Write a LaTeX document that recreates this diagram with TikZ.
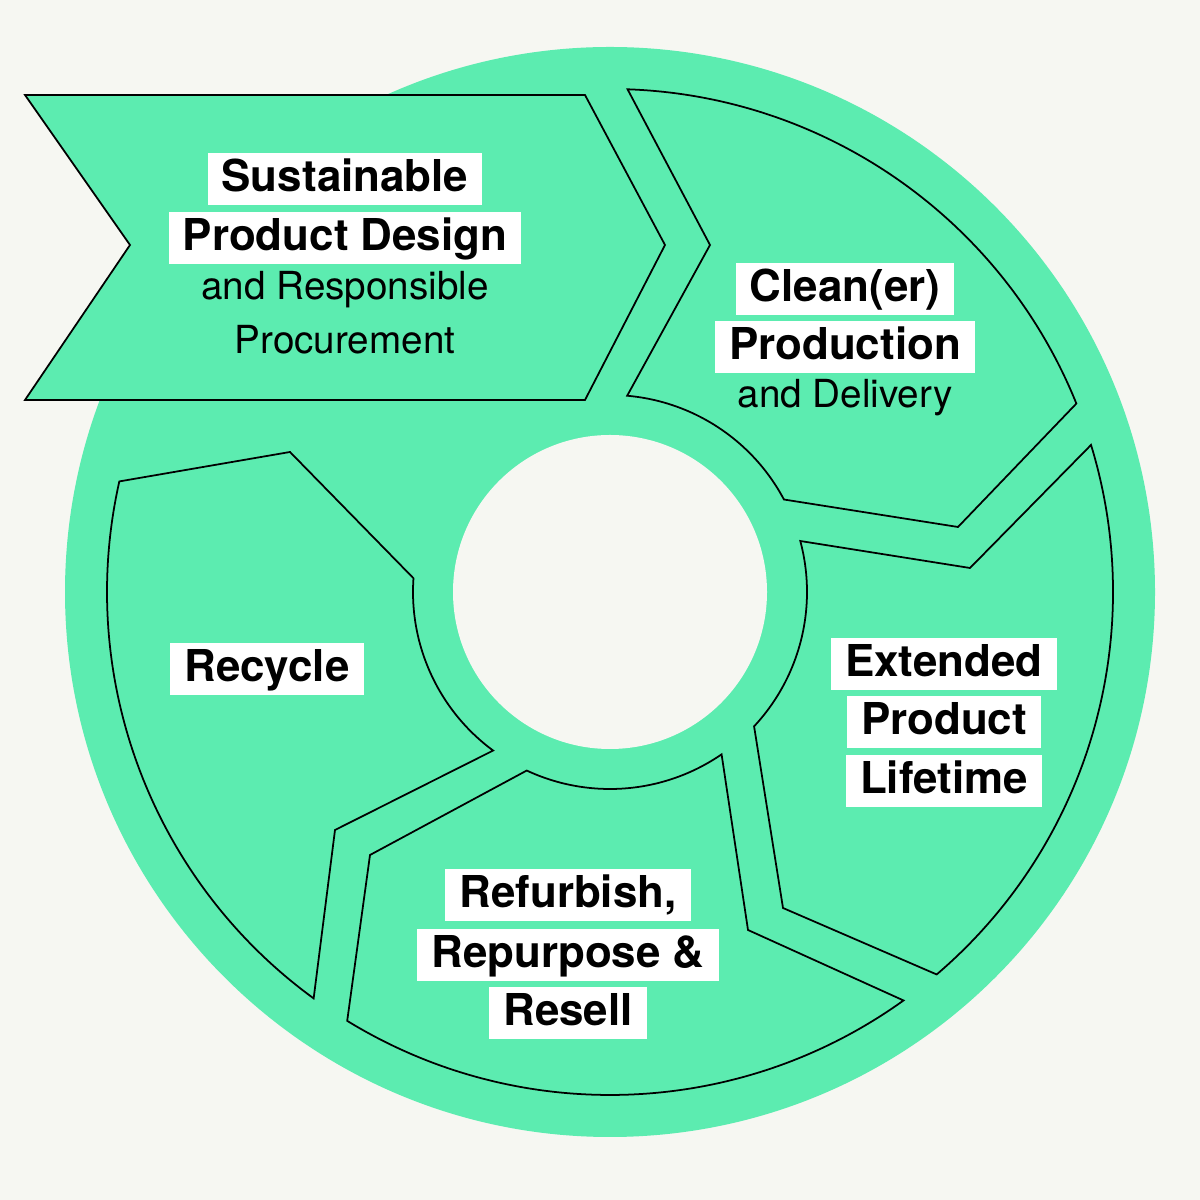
\documentclass[tikz,border=0pt]{standalone}
\usepackage{fontspec}
\setmainfont{TeX Gyre Heros}
\usetikzlibrary{calc}
\definecolor{bgc}{HTML}{F6F7F2}
\definecolor{grn}{HTML}{5CECB0}
\tikzset{
  seg/.style={fill=grn,draw=black,line width=1pt,line join=miter},
  lbl/.style={fill=white,font=\fontsize{25}{30}\selectfont\bfseries,inner xsep=8pt,inner ysep=3pt,text height=19pt,text depth=5pt},
  sub/.style={font=\fontsize{22}{26}\selectfont,inner sep=0pt}
}
\begin{document}
\begin{tikzpicture}[x=0.02cm,y=0.02cm]
\useasboundingbox (0,0) rectangle (1200,1200);
\fill[bgc] (0,0) rectangle (1200,1200);
\coordinate (C) at (610,608);
\fill[grn] (C) circle[radius=545];
\fill[bgc] (C) circle[radius=157];
% Clean(er) production
\draw[seg] ($(C)+(88:503)$) -- (710,955) -- ($(C)+(85:197)$) arc[start angle=85,end angle=28,radius=197] -- (958,673) -- ($(C)+(22:503)$) arc[start angle=22,end angle=88,radius=503] -- cycle;
% Extended lifetime
\draw[seg] ($(C)+(15:197)$) -- (970,632) -- ($(C)+(17:503)$) arc[start angle=17,end angle=-49.5,radius=503] -- (783,292) -- ($(C)+(-43:197)$) arc[start angle=-43,end angle=15,radius=197] -- cycle;
% Refurbish
\draw[seg] ($(C)+(-55.5:197)$) -- (748,270) -- ($(C)+(-54.3:503)$) arc[start angle=-54.3,end angle=-121.5,radius=503] -- (370,345) -- ($(C)+(-115:197)$) arc[start angle=-115,end angle=-55.5,radius=197] -- cycle;
% Recycle
\draw[seg] ($(C)+(233.6:197)$) -- (335,370) -- ($(C)+(233.9:503)$) arc[start angle=233.9,end angle=167.3,radius=503] -- (290,748) -- ($(C)+(176:197)$) arc[start angle=176,end angle=233.6,radius=197] -- cycle;
% Banner
\draw[seg] (25,1105) -- (585,1105) -- (665,955) -- (585,800) -- (25,800) -- (130,955) -- cycle;
% Labels
\node[lbl] (s1) at (345,1021) {Sustainable};
\node[lbl] (s2) at (345,962) {Product Design};
\node[sub] (s3) at (345,910) {and Responsible};
\node[sub] (s4) at (345,860) {Procurement};
\node[lbl] (c1) at (845,911) {Clean(er)};
\node[lbl] (c2) at (845,853) {Production};
\node[sub] (c3) at (845,802) {and Delivery};
\node[lbl] (e1) at (944,536) {Extended};
\node[lbl] (e2) at (944,478) {Product};
\node[lbl] (e3) at (944,419) {Lifetime};
\node[lbl] (r1) at (568,305) {Refurbish,};
\node[lbl] (r2) at (568,245) {Repurpose \&};
\node[lbl] (r3) at (568,187) {Resell};
\node[lbl] (y1) at (267,531) {Recycle};
\end{tikzpicture}
\end{document}
